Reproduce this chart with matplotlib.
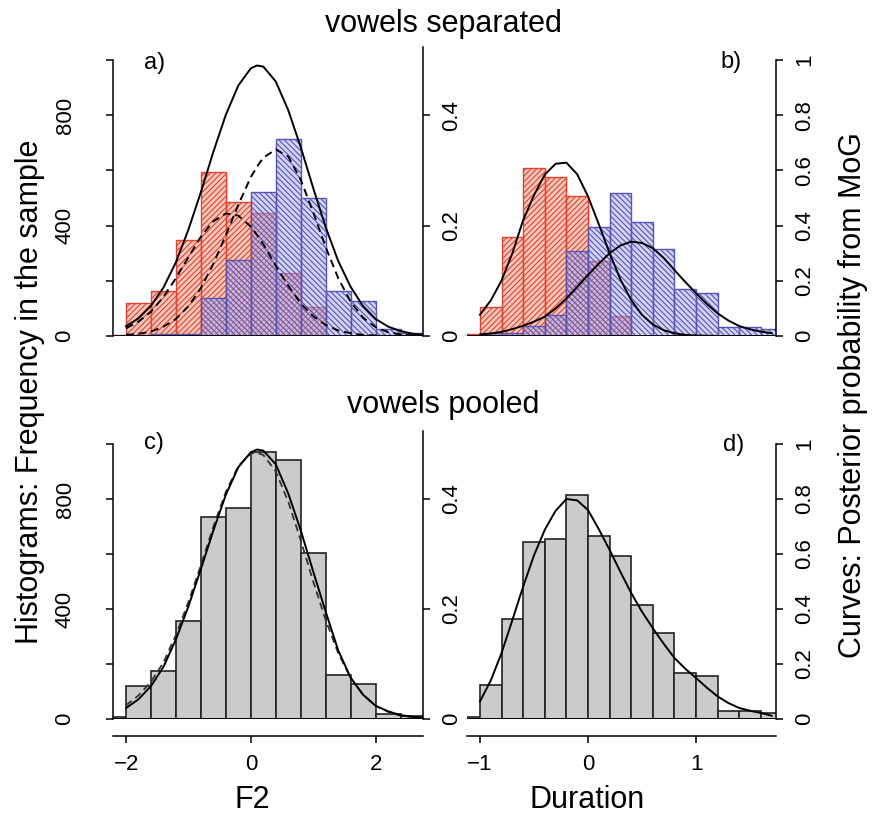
import matplotlib.pyplot as plt

plt.rcParams['font.family'] = ['Liberation Sans', 'DejaVu Sans']
plt.rcParams['hatch.linewidth'] = 0.8

# ---- data ----
# F2 histograms (frequency), bins of 0.4 from -2.4 to 2.8
f2_edges = [-2.4, -2.0, -1.6, -1.2, -0.8, -0.4, 0.0, 0.4, 0.8, 1.2, 1.6, 2.0, 2.4, 2.8]
f2_red = [5, 118, 164, 348, 595, 487, 444, 227, 106, 0, 0, 0, 0]
f2_blue = [0, 3, 6, 6, 136, 275, 523, 712, 499, 164, 128, 24, 10]
f2_pooled = [6, 119, 176, 357, 734, 766, 970, 942, 605, 161, 127, 18, 12]

# Duration histograms (frequency), bins of 0.2 from -1.2 to 1.8
dur_edges = [-1.2, -1.0, -0.8, -0.6, -0.4, -0.2, 0.0, 0.2, 0.4, 0.6, 0.8, 1.0, 1.2, 1.4, 1.6, 1.8]
dur_red = [7, 106, 357, 607, 577, 507, 272, 72, 0, 0, 0, 0, 0, 0, 0]
dur_blue = [0, 12, 10, 37, 76, 308, 396, 519, 414, 314, 169, 155, 31, 31, 27]
dur_pooled = [6, 125, 364, 645, 654, 815, 666, 591, 415, 312, 167, 155, 28, 28, 22]

# curves for F2 (inner right axis, 0..0.5)
f2_x = [-2.0, -1.8, -1.6, -1.4, -1.2, -1.0, -0.8, -0.6, -0.4, -0.2, 0.0, 0.1, 0.2, 0.4,
        0.6, 0.8, 1.0, 1.2, 1.4, 1.6, 1.8, 2.0, 2.2, 2.4, 2.6, 2.8]
a_solid = [0.018, 0.032, 0.055, 0.088, 0.134, 0.193, 0.261, 0.334, 0.401, 0.454, 0.485, 0.490, 0.488, 0.461,
           0.409, 0.342, 0.268, 0.197, 0.136, 0.089, 0.054, 0.031, 0.017, 0.009, 0.004, 0.002]
a_dash_red = [0.014, 0.026, 0.044, 0.071, 0.105, 0.143, 0.180, 0.208, 0.222, 0.218, 0.198, 0.183, 0.166, 0.127,
              0.091, 0.059, 0.036, 0.020, 0.010, 0.005, 0.002, 0.001, 0.0, 0.0, 0.0, 0.0]
a_dash_blue = [0.002, 0.004, 0.008, 0.017, 0.031, 0.054, 0.087, 0.131, 0.183, 0.238, 0.288, 0.307, 0.323, 0.338,
               0.325, 0.283, 0.224, 0.161, 0.105, 0.062, 0.033, 0.016, 0.007, 0.003, 0.001, 0.0]
c_solid = [0.020, 0.036, 0.060, 0.095, 0.145, 0.205, 0.273, 0.343, 0.408, 0.458, 0.485, 0.490, 0.488, 0.463,
           0.410, 0.343, 0.268, 0.195, 0.125, 0.075, 0.044, 0.024, 0.014, 0.007, 0.004, 0.002]
c_dash = [0.025, 0.043, 0.068, 0.103, 0.153, 0.213, 0.280, 0.350, 0.413, 0.460, 0.483, 0.484, 0.480, 0.450,
          0.395, 0.325, 0.250, 0.180, 0.120, 0.075, 0.044, 0.024, 0.013, 0.006, 0.003, 0.002]

# curves for duration (outer right axis, 0..1)
dur_x = [-1.0, -0.9, -0.8, -0.7, -0.6, -0.5, -0.4, -0.3, -0.2, -0.1, 0.0, 0.1, 0.2, 0.3,
         0.4, 0.5, 0.6, 0.7, 0.8, 0.9, 1.0, 1.1, 1.2, 1.3, 1.4, 1.5, 1.6, 1.7]
b_red = [0.077, 0.129, 0.201, 0.300, 0.420, 0.510, 0.585, 0.624, 0.628, 0.586, 0.506, 0.405, 0.300, 0.205,
         0.130, 0.076, 0.042, 0.021, 0.010, 0.004, 0.002, 0.001, 0.0, 0.0, 0.0, 0.0, 0.0, 0.0]
b_blue = [0.005, 0.009, 0.015, 0.025, 0.037, 0.052, 0.070, 0.100, 0.136, 0.178, 0.221, 0.262, 0.300, 0.328,
          0.342, 0.337, 0.318, 0.283, 0.239, 0.196, 0.155, 0.116, 0.082, 0.056, 0.036, 0.024, 0.016, 0.010]
d_solid = [0.064, 0.140, 0.240, 0.360, 0.482, 0.595, 0.688, 0.757, 0.800, 0.795, 0.760, 0.690, 0.615, 0.535,
           0.458, 0.390, 0.330, 0.274, 0.222, 0.183, 0.149, 0.114, 0.082, 0.058, 0.040, 0.030, 0.022, 0.012]

W, H = 873, 816
fig = plt.figure(figsize=(W / 100, H / 100), dpi=100)

RED = '#e5402a'
BLUE = '#5555b8'
TICK = 16
LAB = 22


def box(left, right, top, bottom):
    return [left / W, 1 - bottom / H, (right - left) / W, (bottom - top) / H]


def widths(edges):
    return [edges[i + 1] - edges[i] for i in range(len(edges) - 1)]


def panel(rect, xlim, left_axis, bottom_axis):
    ax = fig.add_axes(rect)
    ax.set_xlim(*xlim)
    ax.set_ylim(0, 1000)
    ax.patch.set_alpha(0)
    for s in ['top', 'right']:
        ax.spines[s].set_visible(False)
    if left_axis:
        ax.spines['left'].set_bounds(0, 1000)
        ax.spines['left'].set_linewidth(1.1)
        ax.set_yticks([0, 200, 400, 600, 800, 1000])
        ax.set_yticklabels(['0', '', '400', '', '800', ''], rotation=90, va='center', fontsize=TICK)
        ax.tick_params(axis='y', direction='out', length=5, width=1.1, pad=22)
    else:
        ax.spines['left'].set_visible(False)
        ax.set_yticks([])
    if bottom_axis:
        ax.spines['bottom'].set_position(('outward', 12))
        ax.spines['bottom'].set_linewidth(1.1)
        ax.tick_params(axis='x', direction='out', length=5, width=1.1, pad=8, labelsize=TICK)
    else:
        ax.spines['bottom'].set_visible(False)
        ax.set_xticks([])
    ax.axhline(0, color='black', lw=1.3, zorder=5)
    return ax


def hatched(ax, edges, red, blue):
    w = widths(edges)
    ax.bar(edges[:-1], red, width=w, align='edge', facecolor=(0.97, 0.66, 0.58, 0.6),
           edgecolor=RED, hatch='//////', lw=1.0)
    ax.bar(edges[:-1], blue, width=w, align='edge', facecolor=(0.66, 0.66, 0.90, 0.5),
           edgecolor=BLUE, hatch='\\\\\\\\\\\\', lw=1.0)


def gray(ax, edges, vals):
    ax.bar(edges[:-1], vals, width=widths(edges), align='edge', facecolor='#cbcbcb',
           edgecolor='#222222', lw=1.2)


def curve_axis(ax, top, ticks, labels, bound):
    axr = ax.twinx()
    axr.set_ylim(0, top)
    for s in ['top', 'left', 'bottom']:
        axr.spines[s].set_visible(False)
    axr.spines['right'].set_bounds(0, bound)
    axr.spines['right'].set_linewidth(1.1)
    axr.set_yticks(ticks)
    axr.set_yticklabels(labels, rotation=90, va='center', fontsize=TICK)
    axr.tick_params(axis='y', direction='out', length=5, width=1.1, pad=8)
    return axr


f2_lim = (-2.21, 2.76)
dur_lim = (-1.12, 1.74)

# a) F2, vowels separated
ax_a = panel(box(113, 423, 60, 336), f2_lim, True, False)
hatched(ax_a, f2_edges, f2_red, f2_blue)
ar = curve_axis(ax_a, 0.5, [0, 0.2, 0.4], ['0', '0.2', '0.4'], 0.524)
ar.plot(f2_x, a_solid, color='black', lw=1.4)
ar.plot(f2_x, a_dash_red, color='black', lw=1.4, dashes=(4, 2.5))
ar.plot(f2_x, a_dash_blue, color='black', lw=1.4, dashes=(4, 2.5))

# b) duration, vowels separated
ax_b = panel(box(467, 776, 60, 336), dur_lim, False, False)
hatched(ax_b, dur_edges, dur_red, dur_blue)
br = curve_axis(ax_b, 1.0, [0, 0.2, 0.4, 0.6, 0.8, 1.0], ['0', '0.2', '0.4', '0.6', '0.8', '1'], 1.0)
br.plot(dur_x, b_red, color='black', lw=1.4)
br.plot(dur_x, b_blue, color='black', lw=1.4)

# c) F2, vowels pooled
ax_c = panel(box(113, 423, 444, 719), f2_lim, True, True)
gray(ax_c, f2_edges, f2_pooled)
ax_c.set_xticks([-2, 0, 2])
ax_c.set_xticklabels(['\u22122', '0', '2'])
ax_c.spines['bottom'].set_bounds(*f2_lim)
cr = curve_axis(ax_c, 0.5, [0, 0.2, 0.4], ['0', '0.2', '0.4'], 0.524)
cr.plot(f2_x, c_dash, color='#333333', lw=1.3, dashes=(4, 2.5))
cr.plot(f2_x, c_solid, color='black', lw=1.4)

# d) duration, vowels pooled
ax_d = panel(box(467, 776, 444, 719), dur_lim, False, True)
gray(ax_d, dur_edges, dur_pooled)
ax_d.set_xticks([-1, 0, 1])
ax_d.set_xticklabels(['\u22121', '0', '1'])
ax_d.spines['bottom'].set_bounds(*dur_lim)
dr = curve_axis(ax_d, 1.0, [0, 0.2, 0.4, 0.6, 0.8, 1.0], ['0', '0.2', '0.4', '0.6', '0.8', '1'], 1.0)
dr.plot(dur_x, d_solid, color='black', lw=1.4)


def label(x, y, s, size, rot=0):
    fig.text(x / W, 1 - y / H, s, fontsize=size, rotation=rot, ha='center', va='center')


label(443, 24, 'vowels separated', LAB)
label(443, 405, 'vowels pooled', LAB)
label(155, 63, 'a)', 17)
label(731, 62, 'b)', 17)
label(154, 443, 'c)', 17)
label(734, 445, 'd)', 17)
label(252, 800, 'F2', LAB)
label(587, 800, 'Duration', LAB)
label(30, 392, 'Histograms: Frequency in the sample', LAB, 90)
label(853, 395, 'Curves: Posterior probability from MoG', LAB, 90)

fig.savefig('out.png', dpi=100)
